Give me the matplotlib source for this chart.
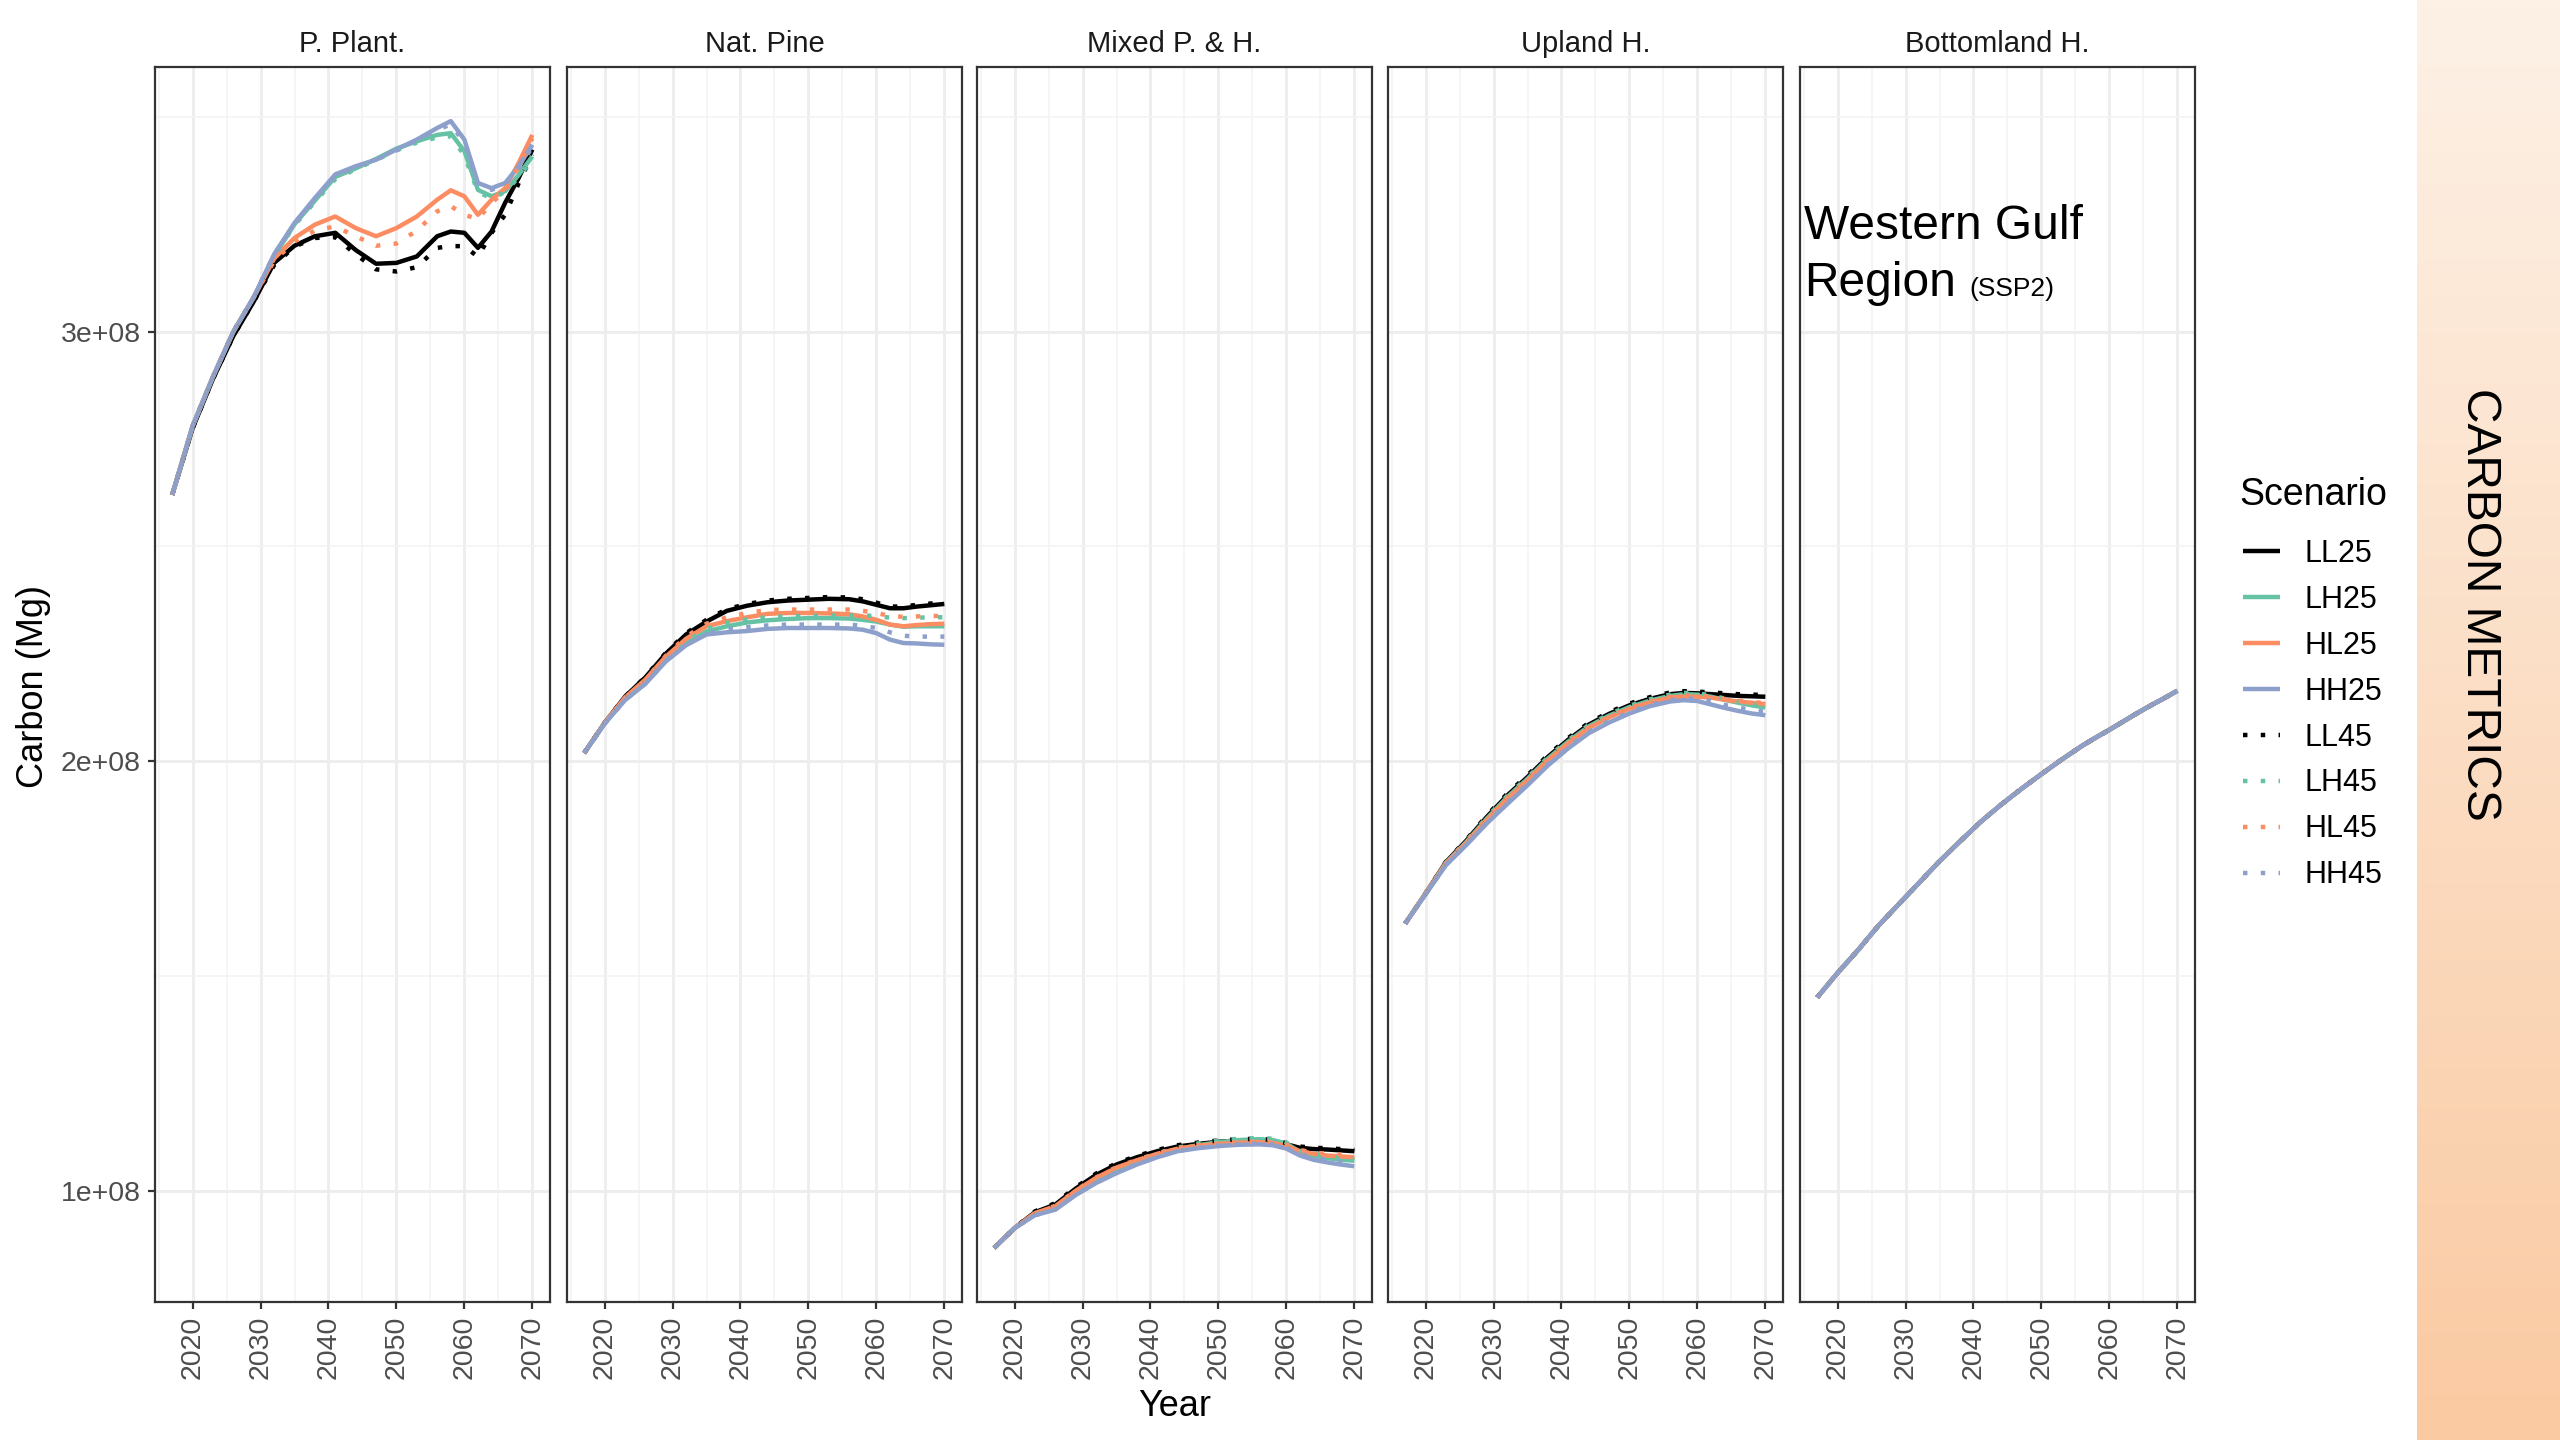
import numpy as np
import matplotlib.pyplot as plt
from matplotlib.lines import Line2D

plt.rcParams['font.family'] = ['Liberation Sans', 'DejaVu Sans']

# carbon stocks, in units of 1e8 Mg
years = [2017, 2020, 2023, 2026, 2029, 2032, 2035, 2038, 2041, 2044, 2047,
         2050, 2053, 2056, 2058, 2060, 2062, 2064, 2066, 2068, 2070]

panels = ['P. Plant.', 'Nat. Pine', 'Mixed P. & H.', 'Upland H.', 'Bottomland H.']
scenarios = ['LL25', 'LH25', 'HL25', 'HH25', 'LL45', 'LH45', 'HL45', 'HH45']

plantation = dict(
    LL25=[2.62, 2.775, 2.89, 2.99, 3.07, 3.16, 3.20, 3.222, 3.23, 3.19, 3.158, 3.16, 3.175, 3.222, 3.233, 3.23, 3.195, 3.233, 3.30, 3.358, 3.424],
    LH25=[2.62, 2.78, 2.895, 3.0, 3.08, 3.175, 3.25, 3.305, 3.36, 3.38, 3.402, 3.426, 3.443, 3.458, 3.462, 3.42, 3.33, 3.315, 3.327, 3.365, 3.408],
    HL25=[2.62, 2.78, 2.895, 3.0, 3.08, 3.17, 3.218, 3.249, 3.268, 3.241, 3.222, 3.241, 3.268, 3.307, 3.329, 3.315, 3.272, 3.307, 3.334, 3.393, 3.458],
    HH25=[2.62, 2.78, 2.895, 3.0, 3.08, 3.18, 3.253, 3.311, 3.366, 3.385, 3.40, 3.424, 3.447, 3.474, 3.49, 3.447, 3.346, 3.334, 3.346, 3.385, 3.435],
    LL45=[2.62, 2.775, 2.89, 2.99, 3.07, 3.155, 3.198, 3.218, 3.22, 3.18, 3.145, 3.14, 3.15, 3.195, 3.199, 3.199, 3.174, 3.23, 3.272, 3.346, 3.412],
    LH45=[2.62, 2.78, 2.895, 3.0, 3.08, 3.175, 3.248, 3.302, 3.355, 3.378, 3.40, 3.422, 3.44, 3.452, 3.455, 3.41, 3.325, 3.31, 3.325, 3.36, 3.40],
    HL45=[2.62, 2.78, 2.895, 3.0, 3.08, 3.165, 3.21, 3.235, 3.245, 3.222, 3.20, 3.205, 3.235, 3.28, 3.292, 3.272, 3.262, 3.30, 3.327, 3.385, 3.45],
    HH45=[2.62, 2.78, 2.895, 3.0, 3.08, 3.18, 3.25, 3.308, 3.362, 3.383, 3.40, 3.422, 3.445, 3.47, 3.482, 3.44, 3.34, 3.33, 3.343, 3.38, 3.43],
)

natural_pine = dict(
    LL25=[2.019, 2.089, 2.15, 2.195, 2.25, 2.295, 2.325, 2.35, 2.362, 2.37, 2.374, 2.376, 2.378, 2.377, 2.372, 2.364, 2.356, 2.356, 2.36, 2.363, 2.366],
    LH25=[2.019, 2.089, 2.146, 2.186, 2.237, 2.275, 2.302, 2.314, 2.323, 2.328, 2.331, 2.333, 2.333, 2.332, 2.329, 2.325, 2.318, 2.313, 2.314, 2.314, 2.314],
    HL25=[2.019, 2.089, 2.148, 2.19, 2.243, 2.285, 2.314, 2.326, 2.335, 2.343, 2.345, 2.345, 2.344, 2.342, 2.337, 2.329, 2.318, 2.314, 2.317, 2.319, 2.32],
    HH25=[2.019, 2.087, 2.142, 2.18, 2.232, 2.27, 2.295, 2.30, 2.303, 2.308, 2.31, 2.31, 2.31, 2.309, 2.306, 2.298, 2.283, 2.275, 2.274, 2.272, 2.271],
    LL45=[2.019, 2.089, 2.15, 2.196, 2.252, 2.298, 2.329, 2.354, 2.366, 2.374, 2.378, 2.38, 2.382, 2.381, 2.377, 2.369, 2.36, 2.36, 2.364, 2.367, 2.37],
    LH45=[2.019, 2.089, 2.146, 2.188, 2.24, 2.28, 2.308, 2.322, 2.33, 2.335, 2.337, 2.338, 2.339, 2.339, 2.339, 2.338, 2.334, 2.333, 2.334, 2.335, 2.335],
    HL45=[2.019, 2.089, 2.148, 2.19, 2.245, 2.29, 2.32, 2.335, 2.345, 2.352, 2.353, 2.353, 2.353, 2.353, 2.35, 2.345, 2.338, 2.336, 2.337, 2.338, 2.338],
    HH45=[2.019, 2.087, 2.142, 2.181, 2.234, 2.272, 2.298, 2.306, 2.312, 2.316, 2.318, 2.318, 2.318, 2.318, 2.315, 2.31, 2.30, 2.292, 2.29, 2.29, 2.29],
)

mixed = dict(
    LL25=[0.867, 0.913, 0.95, 0.968, 1.005, 1.037, 1.061, 1.078, 1.092, 1.103, 1.109, 1.114, 1.117, 1.118, 1.115, 1.108, 1.10, 1.097, 1.096, 1.094, 1.092],
    LH25=[0.867, 0.913, 0.946, 0.96, 0.996, 1.025, 1.05, 1.068, 1.084, 1.097, 1.106, 1.113, 1.118, 1.12, 1.118, 1.11, 1.09, 1.082, 1.076, 1.072, 1.07],
    HL25=[0.867, 0.913, 0.948, 0.964, 1.0, 1.03, 1.054, 1.071, 1.086, 1.098, 1.105, 1.109, 1.112, 1.113, 1.111, 1.105, 1.092, 1.086, 1.082, 1.08, 1.078],
    HH25=[0.867, 0.913, 0.943, 0.956, 0.99, 1.018, 1.041, 1.061, 1.078, 1.092, 1.099, 1.104, 1.107, 1.108, 1.106, 1.098, 1.082, 1.072, 1.066, 1.061, 1.057],
    LL45=[0.867, 0.913, 0.952, 0.971, 1.008, 1.04, 1.064, 1.081, 1.095, 1.106, 1.112, 1.117, 1.12, 1.121, 1.118, 1.111, 1.103, 1.1, 1.099, 1.097, 1.095],
    LH45=[0.867, 0.913, 0.946, 0.961, 0.998, 1.027, 1.052, 1.07, 1.087, 1.10, 1.11, 1.117, 1.121, 1.123, 1.121, 1.112, 1.094, 1.086, 1.08, 1.076, 1.074],
    HL45=[0.867, 0.913, 0.948, 0.965, 1.001, 1.031, 1.055, 1.072, 1.087, 1.099, 1.106, 1.11, 1.113, 1.115, 1.113, 1.107, 1.095, 1.089, 1.086, 1.084, 1.082],
    HH45=[0.867, 0.913, 0.943, 0.957, 0.991, 1.019, 1.042, 1.062, 1.079, 1.093, 1.10, 1.105, 1.108, 1.11, 1.108, 1.10, 1.086, 1.077, 1.072, 1.067, 1.064],
)

upland = dict(
    LL25=[1.622, 1.692, 1.765, 1.815, 1.87, 1.92, 1.963, 2.01, 2.05, 2.085, 2.11, 2.13, 2.145, 2.156, 2.159, 2.158, 2.156, 2.154, 2.152, 2.151, 2.15],
    LH25=[1.622, 1.692, 1.763, 1.812, 1.866, 1.916, 1.959, 2.006, 2.046, 2.081, 2.106, 2.126, 2.141, 2.152, 2.156, 2.155, 2.15, 2.143, 2.136, 2.13, 2.125],
    HL25=[1.622, 1.692, 1.762, 1.81, 1.863, 1.912, 1.955, 2.002, 2.042, 2.077, 2.102, 2.122, 2.137, 2.148, 2.151, 2.15, 2.148, 2.143, 2.139, 2.136, 2.133],
    HH25=[1.622, 1.69, 1.758, 1.805, 1.855, 1.90, 1.944, 1.99, 2.03, 2.065, 2.09, 2.111, 2.128, 2.139, 2.142, 2.14, 2.132, 2.124, 2.117, 2.111, 2.107],
    LL45=[1.622, 1.692, 1.766, 1.817, 1.873, 1.924, 1.967, 2.014, 2.054, 2.089, 2.114, 2.134, 2.149, 2.16, 2.163, 2.162, 2.16, 2.158, 2.156, 2.155, 2.154],
    LH45=[1.622, 1.692, 1.764, 1.814, 1.869, 1.919, 1.962, 2.009, 2.049, 2.084, 2.109, 2.129, 2.144, 2.155, 2.159, 2.158, 2.153, 2.146, 2.139, 2.133, 2.128],
    HL45=[1.622, 1.692, 1.763, 1.812, 1.865, 1.914, 1.957, 2.004, 2.044, 2.079, 2.104, 2.124, 2.139, 2.15, 2.153, 2.152, 2.15, 2.145, 2.141, 2.138, 2.135],
    HH45=[1.622, 1.69, 1.759, 1.806, 1.857, 1.903, 1.947, 1.993, 2.033, 2.068, 2.093, 2.114, 2.131, 2.142, 2.146, 2.145, 2.14, 2.131, 2.125, 2.119, 2.115],
)

# bottomland hardwood: every scenario follows the same path
bottomland_all = [1.45, 1.507, 1.56, 1.617, 1.667, 1.717, 1.767, 1.813, 1.858, 1.898, 1.935,
                  1.97, 2.004, 2.036, 2.055, 2.073, 2.092, 2.111, 2.129, 2.146, 2.164]
bottomland = {s: bottomland_all for s in scenarios}

panel_data = [plantation, natural_pine, mixed, upland, bottomland]

colors = {'LL': '#000000', 'LH': '#66C2A5', 'HL': '#FC8D62', 'HH': '#8DA0CB'}
y_ticks = [1e8, 2e8, 3e8]
y_tick_labels = ['1e+08', '2e+08', '3e+08']
x_ticks = [2020, 2030, 2040, 2050, 2060, 2070]

W, H = 2560, 1440
fig = plt.figure(figsize=(W / 100, H / 100), dpi=100)
fig.patch.set_facecolor('white')


def style_for(scen):
    ls = '-' if scen.endswith('25') else (0, (1, 3))
    return dict(color=colors[scen[:2]], lw=3.2, ls=ls,
                dash_capstyle='butt', solid_capstyle='butt')


panel_left = [155, 567, 977, 1388, 1800]
panel_top, panel_w, panel_h = 67, 395, 1235

for i, (name, data) in enumerate(zip(panels, panel_data)):
    ax = fig.add_axes([panel_left[i] / W, 1 - (panel_top + panel_h) / H, panel_w / W, panel_h / H])
    ax.set_xlim(2014.47, 2072.6)
    ax.set_ylim(0.741e8, 3.616e8)

    ax.set_xticks(x_ticks)
    ax.set_xticks(np.arange(2015, 2071, 10), minor=True)
    ax.set_yticks(y_ticks)
    ax.set_yticks([1.5e8, 2.5e8, 3.5e8], minor=True)
    ax.grid(which='major', color='#EDEDED', lw=2.0)
    ax.grid(which='minor', color='#F3F3F3', lw=1.2)
    ax.set_axisbelow(True)

    for sp in ax.spines.values():
        sp.set_color('#333333')
        sp.set_linewidth(1.6)

    ax.tick_params(which='minor', length=0)
    ax.tick_params(which='major', length=5, width=1.6, color='#333333',
                   labelsize=20.5, labelcolor='#4D4D4D', pad=5)
    ax.set_xticklabels([str(x) for x in x_ticks], rotation=90)
    if i == 0:
        ax.set_yticklabels(y_tick_labels)
    else:
        ax.tick_params(axis='y', left=False, labelleft=False)

    for scen in scenarios:
        ax.plot(years, np.array(data[scen]) * 1e8, **style_for(scen))

    ax.annotate(name, xy=(0.5, 1), xycoords='axes fraction', xytext=(0, 16.5),
                textcoords='offset points', ha='center', va='center',
                fontsize=21, color='#1A1A1A')

fig.text(34 / W, 1 - 686 / H, 'Carbon (Mg)', rotation=90, ha='center', va='center', fontsize=26)
fig.text(1175 / W, 1 - 1407 / H, 'Year', ha='center', va='center', fontsize=26)

# region label inside the last panel
fig.text(1804 / W, 1 - 239 / H, 'Western Gulf', fontsize=34.5, ha='left', va='baseline')
fig.text(1804 / W, 1 - 296 / H, 'Region', fontsize=34.5, ha='left', va='baseline')
fig.text(1969 / W, 1 - 296 / H, '(SSP2)', fontsize=19, ha='left', va='baseline')

# legend: title placed on its own, keys below it
fig.text(2239 / W, 1 - 495 / H, 'Scenario', fontsize=27, ha='left', va='center')
handles = [Line2D([], [], **style_for(s)) for s in scenarios]
fig.legend(handles, scenarios, loc='upper left',
           bbox_to_anchor=(2243 / W, 1 - 539 / H), frameon=False,
           fontsize=22, handlelength=1.2, handletextpad=0.8,
           labelspacing=0.52, borderpad=0, borderaxespad=0)

# peach side banner
side = fig.add_axes([2417 / W, 0, (W - 2417) / W, 1])
top_c = np.array([253, 241, 230]) / 255
bot_c = np.array([250, 202, 162]) / 255
t = np.linspace(0, 1, 256)[:, None, None]
side.imshow(top_c * (1 - t) + bot_c * t, aspect='auto', extent=[0, 1, 0, 1])
side.axis('off')
side.text(0.44, 1 - 604 / H, 'CARBON METRICS', rotation=-90, ha='center', va='center',
          fontsize=34.5, transform=side.transAxes)

fig.savefig('out.png', dpi=100)
